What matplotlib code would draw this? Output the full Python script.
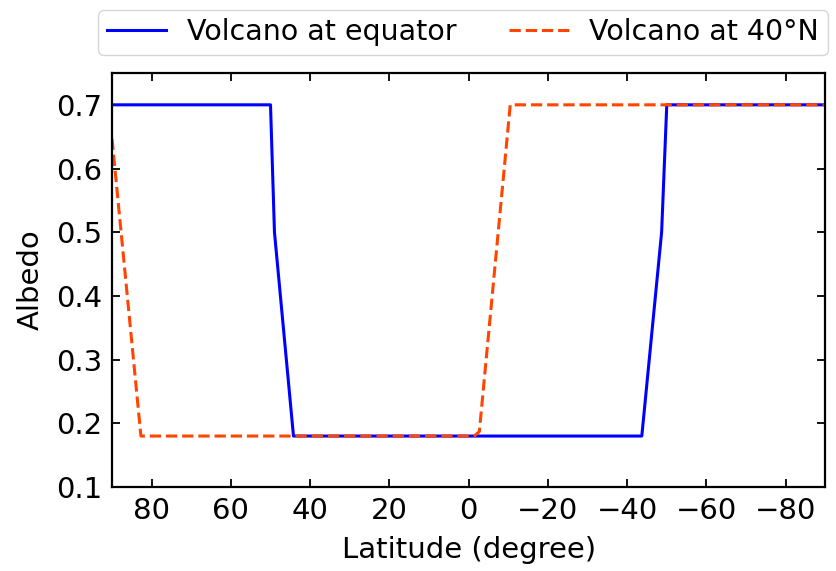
import matplotlib
matplotlib.use("Agg")
import matplotlib.pyplot as plt

# Data
lat_eq = [90, 50, 49, 44.2, -43.7, -48.7, -50, -90]
alb_eq = [0.7, 0.7, 0.5, 0.18, 0.18, 0.5, 0.7, 0.7]
lat_40 = [90, 82.7, -1.4, -2.7, -10.5, -90]
alb_40 = [0.647, 0.18, 0.18, 0.187, 0.7, 0.7]
xticks = [80, 60, 40, 20, 0, -20, -40, -60, -80]
yticks = [0.1, 0.2, 0.3, 0.4, 0.5, 0.6, 0.7]

plt.rcParams['font.family'] = 'DejaVu Sans'
fig = plt.figure(figsize=(8.37, 5.71), dpi=100)
ax = fig.add_axes([0.1338, 0.1471, 0.986 - 0.1338, 0.8722 - 0.1471])

ax.plot(lat_eq, alb_eq, color='#0000ff', lw=2.2, label='Volcano at equator')
ax.plot(lat_40, alb_40, color='#ff4500', lw=2.2, ls='--', label='Volcano at 40°N')

ax.set_xlim(90, -90)
ax.set_ylim(0.1, 0.75)
ax.set_xticks(xticks)
ax.set_yticks(yticks)
ax.tick_params(direction='in', top=True, right=True, length=6, width=1.3, labelsize=21, pad=7)
for s in ax.spines.values():
    s.set_linewidth(1.6)
ax.set_xlabel('Latitude (degree)', fontsize=21, labelpad=8)
ax.set_ylabel('Albedo', fontsize=21, labelpad=8)

leg = ax.legend(loc='lower left', bbox_to_anchor=(-0.0196, 1.0435), ncol=2, fontsize=20.5,
                frameon=True, borderaxespad=0, borderpad=0.3, columnspacing=1.85,
                handlelength=2.1, handletextpad=0.72)
leg.get_frame().set_edgecolor('0.8')

fig.savefig('out.png', dpi=100)
